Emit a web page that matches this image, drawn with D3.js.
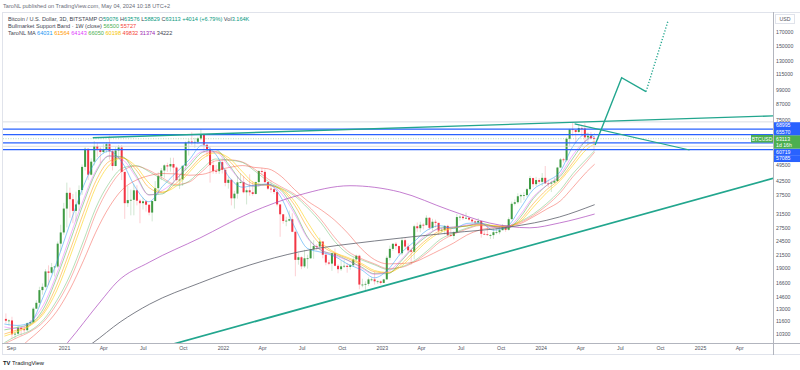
<!DOCTYPE html>
<html>
<head>
<meta charset="utf-8">
<script src="https://cdn.jsdelivr.net/npm/d3@7"></script>
<style>
  body { margin: 0; background: #fff; }
  svg { display: block; font-family: "Liberation Sans", Arial, sans-serif; }
</style>
</head>
<body>
<svg id="chart" width="800" height="370"></svg>
<script>
// ---- weekly candles, first week starts 2020-08-17
const firstWeek = '2020-08-17'
const firstOpen = 11850
const close2020 = [11650,11680,10270,10330,10920,10770,10670,11380,11500,13030,13760,15480,15960,18410,18180,19150,19270,23830,26440,33000]
const high2020  = [12470,11800,12090,10560,11100,10800,10960,11470,11720,13220,14100,15970,16480,18800,19480,19920,19400,24300,28400,34800]
const low2020   = [11370,11140,9880,9870,10210,10140,10400,10530,11230,11420,12990,13200,14850,15790,16200,18000,17580,19020,22300,25900]
const close2021 = [38200,36000,32300,34300,39200,48600,57500,45200,51000,59000,57500,55800,57100,60000,56200,49000,56600,58200,46400,34700,35700,35800,39100,35500,34700,35300,34200,31800,35400,39900,44600,47000,49300,48800,49900,48300,43000,43200,49100,60900,61500,60900,61300,63300,65500,59700,57300,49400,46800,46700,50800,47300]
const high2021  = [42000,40100,37800,38600,40900,49700,58300,57500,52600,61800,60600,58400,60000,61200,64850,57000,58400,59600,59500,46000,40800,39400,41300,41000,36000,36600,35100,34000,35500,42600,46200,48100,49800,50500,52900,52900,48800,45000,49200,61500,62900,67000,63700,64300,69000,66300,59300,59000,51900,49500,51800,52100]
const low2021   = [27700,30300,28800,29300,32300,37500,47000,43000,44900,49300,53300,50400,55000,55500,52000,47000,48800,53000,43000,30000,33500,31000,31000,34000,28800,32700,32100,31000,29300,35200,37600,43000,43900,46400,46500,42800,42500,39600,40700,47000,54000,59500,58000,60000,62300,55600,53300,42000,45600,45500,45500,45700]
const close2022 = [41900,43100,36300,37900,42100,42200,38400,39100,38400,37800,42200,46800,46400,42200,39700,39500,38500,34300,31300,29400,29500,29900,26600,20500,21000,19300,20800,20800,22600,23300,23200,24300,21500,20000,19800,21800,19400,18800,19300,19400,19200,19500,20600,21300,16300,16300,16400,17100,17100,16800,16800,16550]
const high2022  = [47500,44400,43500,38900,44500,45800,44700,39800,45400,42600,42400,47000,48200,47500,41500,42900,40800,40000,34300,31300,30600,32400,31600,26900,21800,21200,22500,21500,24200,24600,23700,25200,24400,21900,20500,21900,22800,19700,20400,20500,19900,19700,21000,21500,21500,17200,16800,17400,17400,18400,17000,16950]
const low2022   = [40600,39700,34000,33000,36200,41700,38000,34300,37200,37200,37600,40500,45000,41800,39200,38200,37700,33700,25400,28700,28000,29300,26500,17600,19600,18800,19000,18900,20700,20700,22400,22700,20800,19500,19500,18500,19300,18100,18500,19000,18200,18700,19200,20100,15600,15900,15500,16100,16800,16300,16400,16300]
const close2023 = [17100,20900,22700,23800,23300,21800,24600,23200,22400,22100,28000,27500,28400,28300,30300,27600,29200,28900,26900,27100,28100,25800,25600,26500,30500,30600,30200,30300,29800,29300,29000,29400,26100,26000,25800,25800,26500,26500,27000,27900,27100,29900,34500,35000,37000,37400,37400,39500,43800,41400,43000,42300]
const high2023  = [17200,21300,23400,23900,24200,23400,25200,25100,23900,22600,28400,29000,29200,28800,31000,30500,30000,29800,28900,27600,28300,28400,27400,26800,31400,31000,31400,31800,30400,29700,29600,30200,29500,26800,28100,26100,27400,27500,28000,28600,27800,30400,35200,35900,38000,37900,38400,40000,44700,44000,44300,43800]
const low2023   = [16500,17100,20400,22300,22500,21400,21400,22800,21900,19600,20600,26600,26500,27200,28200,27100,26900,27700,25800,26400,25900,25400,25400,24800,26300,29500,29700,29900,29500,28900,28600,28800,25200,25800,25600,24900,24900,26000,26000,27200,26600,26900,29900,34000,34500,34800,35700,36800,39000,40200,40700,41500]
const close2024 = [43900,41700,41600,42000,42600,48300,52100,51700,63100,68900,68400,67200,69700,69400,63900,64900,63400,63113]
const high2024  = [45900,49000,43200,42800,43900,48600,52800,52900,64000,69200,73800,68100,71700,71400,72800,66900,67200,64700]
const low2024   = [40700,41500,40300,38500,41800,42300,48300,50600,50900,59000,64500,60800,66500,64500,60600,59700,62800,56500]

// ---- moving averages, one value per month
const maMonthStart = '2020-09-01', maMonthEnd = '2024-05-01'
const maFirstDate = '2020-08-17', maLastDate = '2024-05-04'
const maBlue   = [11300,11150,11450,14650,20000,28750,40750,51250,56250,50500,39900,35150,40500,46000,51750,59500,54750,44250,40250,41000,41500,36500,27750,22750,22000,21150,19700,18700,17350,18700,21900,24150,27000,28150,27400,28750,28900,27000,27850,33000,39400,42450,46550,58750,66000,64031]
const maOrange = [10300,10690,11190,12670,16150,22430,31800,42550,51150,52950,47410,40120,38240,41630,47200,53700,56050,51500,44750,41350,41050,39400,34000,27500,23450,21810,20740,19590,18360,18160,19710,22160,24840,26890,27620,28090,28540,28110,27720,29740,34530,39340,43480,50610,59210,61564]
const maPink   = [11000,10840,11470,13520,17930,25530,36000,46850,53900,52080,44380,37400,39030,43150,50130,55930,55880,48650,42300,40730,41250,38000,31380,25000,22480,21300,20400,19020,17940,18390,20580,23200,25980,27400,27800,28330,28600,27790,27760,31130,36780,40960,45290,54300,62180,64143]
const maGreen  = [10700,10950,11300,13050,17330,24380,34750,46000,53750,53380,45200,37530,37830,43250,48880,55630,57130,49500,42250,40630,41250,39000,32130,25250,22380,21580,20430,19200,18030,18030,20300,23030,25580,27580,27780,28080,28830,27950,27430,30430,36200,40930,44500,52650,62380,66050]
const maYellow = [10100,10520,11120,12420,15370,21130,29830,40250,49420,52670,48880,41850,38520,40550,46080,52420,55330,52830,46420,41830,40920,39670,35250,29000,24170,21970,20950,19850,18580,18250,19320,21580,24350,26430,27520,28100,28350,28220,27920,29280,33420,38280,42800,49250,57100,60198]
const maRed    = [8900,9020,9850,11030,12680,15640,20400,26480,33510,39380,42910,44780,45700,45550,44970,45350,47010,48310,49190,48350,47730,44500,39310,35350,32580,29600,26250,22740,20560,19750,19810,20060,21170,22480,23960,25780,27080,27650,28080,28700,30560,32860,35410,40170,46290,49832]
const bandGreen = [9500,10130,10610,11760,14020,17810,24510,33170,41890,48000,49200,46570,43230,40790,42510,47780,52280,51780,50610,46830,42500,39830,37110,33170,28830,24310,21690,20510,19590,18740,19210,20220,22270,24770,26300,27510,28380,27930,28060,29280,31370,34620,39140,45640,52200,56500]
const bandRed   = [9400,9940,10520,11530,13570,17050,23170,31440,40140,46780,48960,47100,43890,41280,42170,46720,51380,51880,50850,47580,43370,40360,37660,33960,29690,25220,22210,20750,19770,18910,19120,20020,21860,24270,25990,27270,28200,28020,28040,29030,30960,33970,38230,44340,50890,55727]
const purpleDates = ['2020-11-01','2021-01-10','2021-03-25','2021-05-03','2021-07-17','2021-11-09','2022-03-04','2022-06-26','2022-10-20','2023-02-11','2023-06-05','2023-09-05','2023-12-07','2024-02-13','2024-05-04']
const purpleVals  = [7000,9540,13870,16700,20100,25100,31700,37440,40800,38500,32570,28870,27600,28870,31374]
const greyDates = ['2021-01-01','2021-03-08','2021-05-10','2021-07-17','2021-11-09','2022-03-04','2022-06-26','2022-12-15','2023-06-05','2023-10-21','2024-02-13','2024-05-04']
const greyVals  = [8000,9475,11510,13600,16540,19550,22100,24420,26300,27800,30520,34222]

// ---- drawings
const hLevels = [68995, 65570, 60719, 57085]
const faintLevels = [73800, 58829]
const lastPrice = 63113
const upperLine = [['2021-03-08', 63700], ['2024-03-14', 73500]]
const supportLine = [['2022-11-21', 15300], ['2024-05-04', 27650]]
const dropLine = [['2024-03-19', 72400], ['2024-12-08', 56850]]
const projSolid = [['2024-05-05', 59500], ['2024-07-05', 111200], ['2024-08-30', 97700]]
const projDotted = [['2024-08-30', 97700], ['2024-10-19', 187100]]

// ---- axes
const priceTicks = [170000,150000,130000,115000,99000,87000,75000,49500,42500,37500,31500,27500,24500,21500,19000,16600,14600,13000,11600,10300]
const timeTicks = ['2020-09-01','2021-01-01','2021-04-01','2021-07-01','2021-10-01','2022-01-01','2022-04-01','2022-07-01','2022-10-01','2023-01-01','2023-04-01','2023-07-01','2023-10-01','2024-01-01','2024-04-01','2024-07-01','2024-10-01','2025-01-01','2025-04-01']

const upColor = '#3f9b43', downColor = '#f23645', teal = '#22a68e', blueLine = '#2962ff'
const textCol = '#434651', axisCol = '#50535e'
const plot = {l: 3, r: 773, t: 12, b: 343}

const parse = d3.utcParse('%Y-%m-%d')
const svg = d3.select('#chart')
const x = d3.scaleUtc().domain([parse('2021-01-01'), parse('2025-01-01')]).range([64, 700])
const y = d3.scaleLog().domain([10300, 170000]).range([334, 32])

svg.append('defs').append('clipPath').attr('id', 'plotClip')
  .append('rect').attr('x', plot.l).attr('y', plot.t).attr('width', plot.r - plot.l).attr('height', plot.b - plot.t)

// frame
svg.append('rect').attr('x', 2.5).attr('y', 12.5).attr('width', 800).attr('height', 342)
  .attr('fill', 'none').attr('stroke', '#e0e3eb')
svg.append('line').attr('x1', 773.5).attr('x2', 773.5).attr('y1', 12).attr('y2', 355).attr('stroke', '#b2b5be')
svg.append('line').attr('x1', 2).attr('x2', 800).attr('y1', 343.5).attr('y2', 343.5).attr('stroke', '#b2b5be')

const g = svg.append('g').attr('clip-path', 'url(#plotClip)')

// ---- candles
const closes = [...close2020, ...close2021, ...close2022, ...close2023, ...close2024]
const highs = [...high2020, ...high2021, ...high2022, ...high2023, ...high2024]
const lows = [...low2020, ...low2021, ...low2022, ...low2023, ...low2024]
const candles = closes.map((c, i) => {
  const o = i ? closes[i - 1] : firstOpen
  const d = d3.utcHour.offset(d3.utcDay.offset(parse(firstWeek), 7 * i), 84)
  return {d, o, c, h: Math.max(highs[i], o, c), l: Math.min(lows[i], o, c)}
})

const cg = g.append('g').attr('class', 'candles')
cg.selectAll('line.wick').data(candles).enter().append('line')
  .attr('class', 'wick')
  .attr('x1', d => x(d.d)).attr('x2', d => x(d.d))
  .attr('y1', d => y(d.h)).attr('y2', d => y(d.l))
  .attr('stroke', d => d.c >= d.o ? upColor : downColor)
  .attr('stroke-opacity', 0.3)
  .attr('stroke-width', 0.8)
cg.selectAll('rect.body').data(candles).enter().append('rect')
  .attr('class', 'body')
  .attr('x', d => x(d.d) - 1)
  .attr('width', 2)
  .attr('y', d => y(Math.max(d.o, d.c)))
  .attr('height', d => Math.max(0.8, Math.abs(y(d.o) - y(d.c))))
  .attr('fill', d => d.c >= d.o ? upColor : downColor)

// ---- moving averages
const maDates = [parse(maFirstDate),
  ...d3.utcMonth.range(parse(maMonthStart), parse(maMonthEnd)).map(m => d3.utcDay.offset(m, 14)),
  parse(maLastDate)]
const maLine = d3.line().x(d => x(d[0])).y(d => y(d[1])).curve(d3.curveMonotoneX)
const maSeries = [
  {vals: bandRed, color: '#f44336', op: 0.4},
  {vals: bandGreen, color: '#4caf50', op: 0.4},
  {vals: maRed, color: '#f44336', op: 0.45},
  {vals: maYellow, color: '#fdd835', op: 0.7},
  {vals: maOrange, color: '#ff9800', op: 0.5},
  {vals: maGreen, color: '#4caf50', op: 0.5},
  {vals: maPink, color: '#e040fb', op: 0.4},
  {vals: maBlue, color: '#2196f3', op: 0.5}
]
const mg = g.append('g').attr('class', 'ma')
maSeries.forEach(s => {
  mg.append('path').datum(s.vals.map((v, i) => [maDates[i], v]))
    .attr('d', maLine).attr('fill', 'none')
    .attr('stroke', s.color).attr('stroke-opacity', s.op).attr('stroke-width', 1)
})
mg.append('path').datum(purpleDates.map((d, i) => [parse(d), purpleVals[i]]))
  .attr('d', maLine).attr('fill', 'none').attr('stroke', '#ab47bc').attr('stroke-opacity', 0.7).attr('stroke-width', 1)
mg.append('path').datum(greyDates.map((d, i) => [parse(d), greyVals[i]]))
  .attr('d', maLine).attr('fill', 'none').attr('stroke', '#5d606b').attr('stroke-opacity', 0.8).attr('stroke-width', 1)

// ---- horizontal levels
const dg = g.append('g').attr('class', 'drawings')
dg.selectAll('line.faint').data(faintLevels).enter().append('line')
  .attr('x1', plot.l).attr('x2', plot.r).attr('y1', d => y(d)).attr('y2', d => y(d))
  .attr('stroke', '#d1d4dc').attr('stroke-width', 0.8)
dg.append('line').attr('x1', plot.l).attr('x2', plot.r).attr('y1', y(lastPrice)).attr('y2', y(lastPrice))
  .attr('stroke', '#4caf50').attr('stroke-opacity', 0.5).attr('stroke-width', 0.8).attr('stroke-dasharray', '1 1.5')
dg.selectAll('line.level').data(hLevels).enter().append('line')
  .attr('class', 'level')
  .attr('x1', plot.l).attr('x2', plot.r).attr('y1', d => y(d)).attr('y2', d => y(d))
  .attr('stroke', blueLine).attr('stroke-width', 1.2)

// ---- trend lines
const px = p => [x(parse(p[0])), y(p[1])]
const extendTo = (a, b, xEnd) => [xEnd, a[1] + (b[1] - a[1]) / (b[0] - a[0]) * (xEnd - a[0])]
{
  const a = px(upperLine[0]), b = px(upperLine[1])
  dg.append('path').attr('d', d3.line()([a, extendTo(a, b, plot.r)]))
    .attr('stroke', teal).attr('stroke-width', 1.4).attr('fill', 'none')
}
{
  const a = px(supportLine[0]), b = px(supportLine[1])
  dg.append('path').attr('d', d3.line()([extendTo(a, b, plot.l), extendTo(a, b, plot.r)]))
    .attr('stroke', teal).attr('stroke-width', 1.7).attr('fill', 'none')
}
dg.append('path').attr('d', d3.line()(dropLine.map(px)))
  .attr('stroke', teal).attr('stroke-width', 1.2).attr('fill', 'none')
dg.append('path').attr('d', d3.line()(projSolid.map(px)))
  .attr('stroke', teal).attr('stroke-width', 1.4).attr('fill', 'none')
dg.append('path').attr('d', d3.line()(projDotted.map(px)))
  .attr('stroke', teal).attr('stroke-width', 1.4).attr('fill', 'none').attr('stroke-dasharray', '1.2 1.8')

// ---- price axis
const yAxis = svg.append('g').attr('transform', 'translate(775,0)')
  .call(d3.axisRight(y).tickValues(priceTicks).tickFormat(d3.format('d')).tickSize(0).tickPadding(1))
yAxis.select('.domain').remove()
yAxis.selectAll('text').attr('font-size', 5.2).attr('fill', axisCol).attr('font-family', 'Liberation Sans, Arial, sans-serif')

svg.append('rect').attr('x', 775.5).attr('y', 14.5).attr('width', 19).attr('height', 9)
  .attr('fill', '#fff').attr('stroke', '#e0e3eb')
svg.append('text').attr('x', 785).attr('y', 21).attr('text-anchor', 'middle')
  .attr('font-size', 5.2).attr('fill', axisCol).text('USD')

// level labels, pushed apart around the last-price label
const boxH = 6.6
const priceY = y(lastPrice)
const priceTop = priceY - boxH / 2, priceBot = priceY - boxH / 2 + 2 * boxH
const labels = hLevels.map(v => ({v, y: y(v)}))
let upEdge = priceTop
labels.filter(l => l.v > lastPrice).sort((a, b) => b.y - a.y).forEach(l => {
  l.cy = Math.min(l.y, upEdge - boxH / 2); upEdge = l.cy - boxH / 2
})
let downEdge = priceBot
labels.filter(l => l.v < lastPrice).sort((a, b) => a.y - b.y).forEach(l => {
  l.cy = Math.max(l.y, downEdge + boxH / 2); downEdge = l.cy + boxH / 2
})
const lg = svg.append('g').attr('class', 'levelLabels')
lg.selectAll('rect').data(labels).enter().append('rect')
  .attr('x', 774).attr('width', 26).attr('y', d => d.cy - boxH / 2).attr('height', boxH + 0.2)
  .attr('fill', blueLine)
lg.selectAll('text').data(labels).enter().append('text')
  .attr('x', 776).attr('y', d => d.cy).attr('dy', '0.36em')
  .attr('font-size', 5.2).attr('fill', '#fff').text(d => d3.format('d')(d.v))
svg.append('rect').attr('x', 774).attr('width', 26).attr('y', priceTop).attr('height', 2 * boxH).attr('fill', '#4caf50')
svg.append('text').attr('x', 776).attr('y', priceY).attr('dy', '0.36em').attr('font-size', 5.2).attr('fill', '#fff').text(d3.format('d')(lastPrice))
svg.append('text').attr('x', 776).attr('y', priceY + boxH).attr('dy', '0.36em').attr('font-size', 5.2).attr('fill', '#fff').text('1d 16h')
svg.append('rect').attr('x', 751).attr('width', 22).attr('y', priceY - 3.8).attr('height', 7.6).attr('fill', '#4caf50')
svg.append('text').attr('x', 762).attr('y', priceY).attr('dy', '0.36em').attr('text-anchor', 'middle')
  .attr('font-size', 5).attr('fill', '#fff').text('BTCUSD')

// ---- time axis
const monthFmt = d3.utcFormat('%b'), yearFmt = d3.utcFormat('%Y')
const xAxis = svg.append('g').attr('transform', 'translate(0,345)')
  .call(d3.axisBottom(x).tickValues(timeTicks.map(parse))
    .tickFormat(d => d.getUTCMonth() === 0 ? yearFmt(d) : monthFmt(d)).tickSize(0).tickPadding(1))
xAxis.select('.domain').remove()
xAxis.selectAll('text').attr('font-size', 5.2).attr('fill', axisCol).attr('font-family', 'Liberation Sans, Arial, sans-serif')

// ---- header and legends
svg.append('text').attr('x', 3).attr('y', 7.5).attr('font-size', 5.6).attr('fill', '#6a6d78')
  .text('TaroNL published on TradingView.com, May 04, 2024 10:18 UTC+2')

const legend = (yy, parts) => {
  const t = svg.append('text').attr('x', 8).attr('y', yy).attr('font-size', 5.6)
  parts.forEach(p => t.append('tspan').attr('fill', p[1]).text(p[0]))
}
const upTxt = '#089981'
legend(20.5, [['Bitcoin / U.S. Dollar, 3D, BITSTAMP  ', textCol], ['O', textCol], ['59076 ', upTxt], ['H', textCol], ['63576 ', upTxt],
  ['L', textCol], ['58829 ', upTxt], ['C', textCol], ['63113 ', upTxt], ['+4014 (+6.79%) ', upTxt], ['Vol', textCol], ['3.164K', upTxt]])
legend(27.6, [['Bullmarket Support Band · 1W (close)  ', textCol], ['56500  ', '#4caf50'], ['55727', '#f44336']])
legend(34.8, [['TaroNL MA  ', textCol], ['64031  ', '#2196f3'], ['61564  ', '#ff9800'], ['64143  ', '#e040fb'], ['66050  ', '#4caf50'],
  ['60198  ', '#f5c400'], ['49832  ', '#f44336'], ['31374  ', '#9c27b0'], ['34222', '#434651']])

// ---- footer logo
const foot = svg.append('text').attr('x', 3).attr('y', 364.5).attr('font-size', 5.8).attr('fill', '#131722')
foot.append('tspan').attr('font-weight', 'bold').text('TV ')
foot.append('tspan').text('TradingView')
</script>
</body>
</html>
